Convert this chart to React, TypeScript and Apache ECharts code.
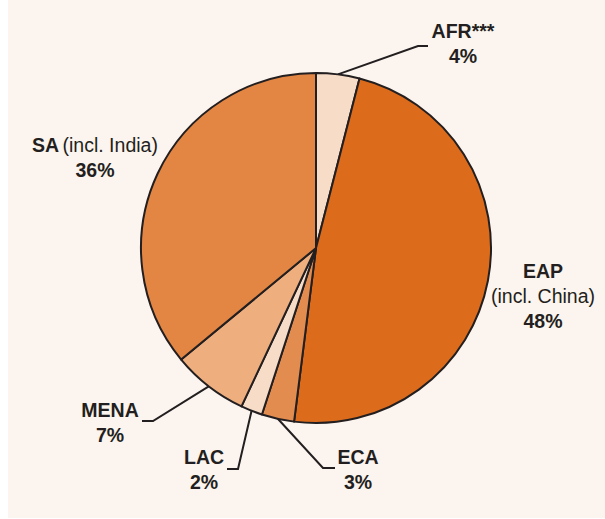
import React, { useEffect, useRef } from "react";
import * as echarts from "echarts";

const regions = ["AFR***", "EAP", "ECA", "LAC", "MENA", "SA"];
const subtitles = ["", "(incl. China)", "", "", "", "(incl. India)"];
const shares = [4, 48, 3, 2, 7, 36];
const sliceColors = ["#f7dcc7", "#dc6b1c", "#e38c50", "#f7dcc7", "#eeae7e", "#e38643"];

const INK = "#231f20";

// label anchor (center) and leader-line elbow/end per slice, chart pixel coords
const labelPos: Record<number, { x: number; y: number; line?: number[][] }> = {
  0: { x: 455, y: 43, line: [[410, 46], [420, 46]] },
  1: { x: 535, y: 296 },
  2: { x: 350, y: 469, line: [[315, 468], [327, 468]] },
  3: { x: 196, y: 469, line: [[230, 469], [219, 469]] },
  4: { x: 102, y: 422, line: [[145, 421], [134, 421]] },
  5: { x: 87, y: 157 },
};

export default function App() {
  const ref = useRef<HTMLDivElement>(null);
  useEffect(() => {
    document.body.style.margin = "0";
    const chart = echarts.init(ref.current!, undefined, { renderer: "svg" });
    const data = regions.map((r, i) => {
      let fmt: string;
      if (i === 1) fmt = `{b|${r}}\n{n|${subtitles[i]}}\n{b|${shares[i]}%}`;
      else if (i === 5) fmt = `{b|${r}} {n|${subtitles[i]}}\n{b|${shares[i]}%}`;
      else fmt = `{b|${r}}\n{b|${shares[i]}%}`;
      return {
        name: r,
        value: shares[i],
        itemStyle: { color: sliceColors[i] },
        label: { formatter: fmt },
        labelLine: { show: !!labelPos[i].line },
      };
    });
    chart.setOption({
      animation: false,
      backgroundColor: "#fcf4ee",
      series: [
        {
          type: "pie",
          center: [308, 248],
          radius: [0, 175],
          startAngle: 90,
          clockwise: true,
          avoidLabelOverlap: false,
          itemStyle: { borderColor: INK, borderWidth: 2 },
          label: {
            show: true,
            position: "outside",
            align: "center",
            color: INK,
            rich: {
              b: { fontFamily: "Liberation Sans", fontWeight: "bold", fontSize: 19.5, color: INK, lineHeight: 25, align: "center" },
              n: { fontFamily: "Liberation Sans", fontWeight: "normal", fontSize: 19.5, color: INK, lineHeight: 25, align: "center" },
            },
          },
          labelLine: { lineStyle: { color: INK, width: 2 }, length: 10, length2: 10 },
          emphasis: { disabled: true },
          labelLayout: (params: any) => {
            const p = labelPos[params.dataIndex];
            const out: any = { x: p.x, y: p.y, align: "center", verticalAlign: "middle" };
            if (p.line && params.labelLinePoints) {
              out.labelLinePoints = [params.labelLinePoints[0], ...p.line];
            }
            return out;
          },
          data,
        },
      ],
    });
    return () => chart.dispose();
  }, []);
  return (
    <div style={{ paddingLeft: 8 }}>
      <div ref={ref} style={{ width: 597, height: 518 }} />
    </div>
  );
}
